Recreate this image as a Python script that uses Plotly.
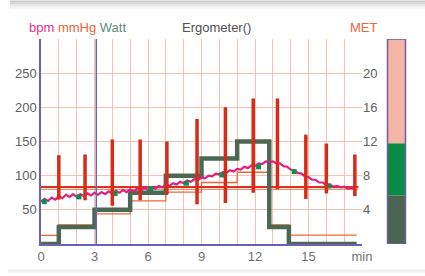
import plotly.graph_objects as go

# ---- data ----
watt_time = [0, 1, 3, 5, 7, 9, 11, 12.8, 13.9, 17.7]
watt_value = [0, 25, 50, 75, 100, 125, 150, 25, 0, 0]

target_time = [0, 1, 3, 5, 7, 9, 11, 12.8, 13.9, 17.7]
target_value = [12.5, 28, 44, 63, 76, 90, 105, 28, 13, 13]

bp_time = [1.0, 2.47, 4.0, 5.56, 7.06, 8.75, 10.34, 11.9, 13.26, 14.85, 16.0, 17.6]
bp_sys = [130, 131, 153, 153, 150, 183, 200, 213, 213, 160, 147, 131]
bp_dia = [65, 64, 56, 64, 73, 58, 60, 75, 80, 66, 74, 70]

rest_bp = 83.5
rest_level2 = 80
line_end = 17.8

hr_bpm = [62, 66, 63, 68, 65, 70, 67, 72, 69, 73, 69, 73, 70, 74, 71, 75, 72, 76, 73, 77,
          74, 78, 75, 79, 76, 80, 77, 81, 78, 82, 79, 83, 81, 85, 83, 87, 85, 89, 87, 91,
          89, 93, 91, 95, 94, 97, 96, 100, 99, 103, 102, 105, 104, 108, 106, 110, 109, 113, 111, 115,
          114, 118, 117, 121, 120, 121, 118, 118, 114, 113, 109, 108, 104, 103, 99, 98, 94, 94, 90, 90,
          86, 87, 84, 85, 83, 84, 81, 82, 80]
hr_step = 0.2

mark_time = [0.19, 2.13, 4.16, 6.16, 8.15, 10.15, 12.2, 14.2, 16.14]
mark_bpm = [62, 69, 74, 81, 89, 101, 113, 106, 85]

x_ticks = [0, 3, 6, 9, 12, 15, 18]
x_ticktext = ["0", "3", "6", "9", "12", "15", "min"]
y_ticks = [50, 100, 150, 200, 250]
met_ticks = [4, 8, 12, 16, 20]

met_zone_bounds = [0, 5.7, 11.8, 24]
met_zone_colors = ["#4b6552", "#0a8a45", "#f2b5a6"]

# ---- style ----
FONT = "Liberation Sans, Arial, sans-serif"
GRID = "#f6c3b3"
AXIS = "#6a62b6"
W, H = 425, 276
L, R, T, B = 41, 63, 39, 29


def px_x(px):
    return (px - L) / (W - L - R)


def px_y(py):
    return (H - B - py) / (H - T - B)


fig = go.Figure()

# target step (thin orange)
fig.add_trace(go.Scatter(x=target_time, y=target_value, mode="lines", line_shape="hv",
                         line=dict(color="#ea6a36", width=1.3), hoverinfo="skip"))
# resting lines
fig.add_trace(go.Scatter(x=[0, line_end], y=[rest_level2, rest_level2], mode="lines",
                         line=dict(color="#ec7a45", width=1), hoverinfo="skip"))
fig.add_trace(go.Scatter(x=[0, line_end], y=[rest_bp, rest_bp], mode="lines",
                         line=dict(color="#dd3020", width=2), hoverinfo="skip"))
# watt step
fig.add_trace(go.Scatter(x=watt_time, y=watt_value, mode="lines", line_shape="hv",
                         line=dict(color="#4b6853", width=4.5), hoverinfo="skip"))
# heart rate
hr_time = [round(i * hr_step, 2) for i in range(len(hr_bpm))]
fig.add_trace(go.Scatter(x=hr_time, y=hr_bpm, mode="lines",
                         line=dict(color="#e0207c", width=2.2), hoverinfo="skip"))
fig.add_trace(go.Scatter(x=mark_time, y=mark_bpm, mode="markers",
                         marker=dict(symbol="square", size=5, color="#0a9050"), hoverinfo="skip"))
# BP bars
bx, by = [], []
for t, s, d in zip(bp_time, bp_sys, bp_dia):
    bx += [t, t, None]
    by += [d, s, None]
fig.add_trace(go.Scatter(x=bx, y=by, mode="lines",
                         line=dict(color="#d92a18", width=3.5), hoverinfo="skip"))
# invisible trace for y2
fig.add_trace(go.Scatter(x=[0], y=[0], yaxis="y2", mode="markers",
                         marker=dict(opacity=0), hoverinfo="skip"))

shapes = []
# blue vertical line at ~3 min
shapes.append(dict(type="line", xref="x", yref="paper", x0=3.1, x1=3.1, y0=0, y1=1,
                   line=dict(color=AXIS, width=1.5)))
# MET zone column
for i, c in enumerate(met_zone_colors):
    shapes.append(dict(type="rect", xref="paper", yref="y2", x0=px_x(387.5), x1=px_x(405.5),
                       y0=met_zone_bounds[i], y1=met_zone_bounds[i + 1],
                       fillcolor=c, line=dict(width=0), layer="above"))
shapes.append(dict(type="rect", xref="paper", yref="y2", x0=px_x(387.5), x1=px_x(405.5),
                   y0=met_zone_bounds[0], y1=met_zone_bounds[-1],
                   fillcolor="rgba(0,0,0,0)", line=dict(color="#6e5f9e", width=1.5), layer="above"))
# top gray band (frame shadow)
for (y0, y1, c) in [(0, 2, "#c9c9c9"), (2, 4, "#d6d6d6"), (4, 6, "#e6e6e6"), (6, 8, "#f3f3f3")]:
    shapes.append(dict(type="rect", xref="paper", yref="paper", x0=px_x(10), x1=px_x(425),
                       y0=px_y(y1), y1=px_y(y0), fillcolor=c, line=dict(width=0)))
shapes.append(dict(type="rect", xref="paper", yref="paper", x0=px_x(8), x1=px_x(425),
                   y0=px_y(276), y1=px_y(273), fillcolor="#f0f0f0", line=dict(width=0)))

annotations = [
    dict(xref="paper", yref="paper", x=px_x(27), y=px_y(27), xanchor="left", yanchor="middle",
         showarrow=False, font=dict(family=FONT, size=13),
         text="<span style='color:#e3307f'>bpm</span> <span style='color:#e8643a'>mmHg</span> "
              "<span style='color:#5e8c7a'>Watt</span>"),
    dict(xref="paper", yref="paper", x=px_x(217), y=px_y(27), xanchor="center", yanchor="middle",
         showarrow=False, font=dict(family=FONT, size=13, color="#505050"), text="Ergometer()"),
    dict(xref="paper", yref="paper", x=px_x(364), y=px_y(27), xanchor="center", yanchor="middle",
         showarrow=False, font=dict(family=FONT, size=13, color="#e8643a"), text="MET"),
]

fig.update_layout(
    width=W, height=H,
    margin=dict(l=L, r=R, t=T, b=B, pad=0),
    paper_bgcolor="white", plot_bgcolor="white",
    showlegend=False,
    font=dict(family=FONT, size=13, color="#666666"),
    shapes=shapes, annotations=annotations,
    xaxis=dict(range=[0, 18], tickvals=x_ticks, ticktext=x_ticktext, ticks="",
               showgrid=True, gridcolor=GRID, gridwidth=1,
               minor=dict(dtick=1, tick0=0, showgrid=True, gridcolor=GRID, gridwidth=1),
               showline=True, linecolor=AXIS, linewidth=1.5, zeroline=False,
               tickfont=dict(family=FONT, size=13, color="#707070")),
    yaxis=dict(range=[0, 300], tickvals=y_ticks, ticks="", showgrid=True, gridcolor=GRID,
               gridwidth=1, showline=True, linecolor=AXIS, linewidth=1.5, zeroline=False,
               tickfont=dict(family=FONT, size=13, color="#606060")),
    yaxis2=dict(range=[0, 24], tickvals=met_ticks, ticks="", overlaying="y", side="right",
                showgrid=False, showline=False, zeroline=False,
                tickfont=dict(family=FONT, size=13, color="#606060")),
)

fig.write_html("out.html", config={"displayModeBar": False},
               post_script="document.body.style.margin='0';document.body.style.overflow='hidden';")
